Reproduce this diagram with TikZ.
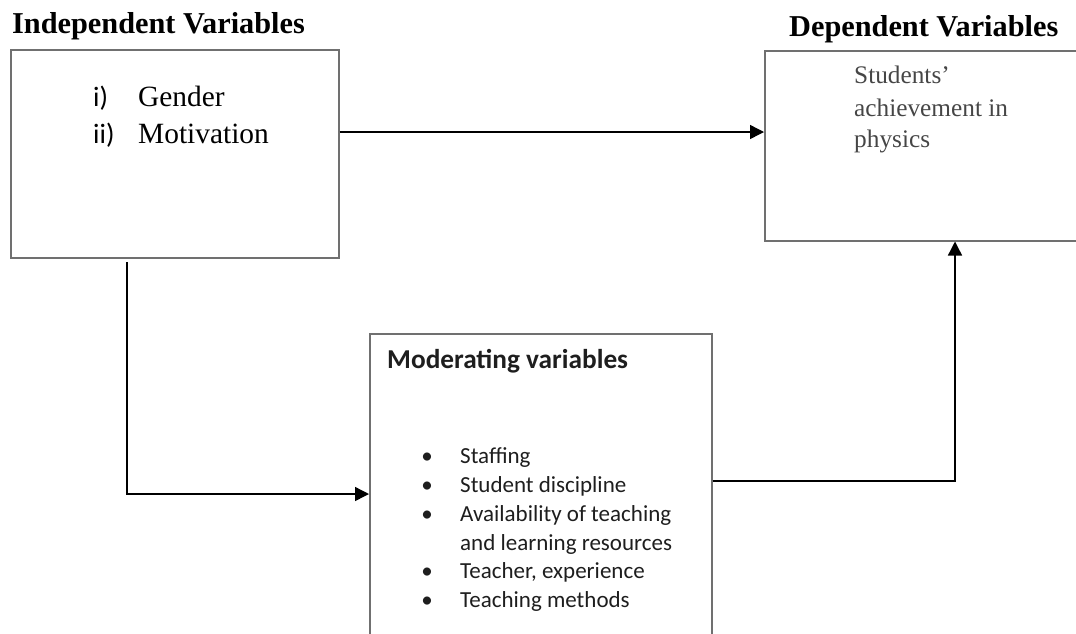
\documentclass[tikz,border=0pt]{standalone}
\usepackage{fontspec}
\setmainfont{Liberation Serif}
\newfontfamily\calfont{Carlito}
\usetikzlibrary{arrows.meta}
\definecolor{boxgray}{RGB}{112,112,112}
\definecolor{softtext}{RGB}{70,70,70}
\definecolor{modtext}{RGB}{30,30,30}
\begin{document}
\begin{tikzpicture}[x=1pt,y=-1pt,
  box/.style={draw=boxgray, line width=1.5pt, inner sep=0pt, anchor=north west},
  conn/.style={line width=1.4pt, -{Triangle[length=14pt,width=14pt]}},
  lbl/.style={anchor=base west, inner sep=0pt},
  title/.style={lbl, font=\bfseries\fontsize{30.3}{31}\selectfont},
  roman/.style={lbl, font=\fontsize{29.4}{30}\selectfont},
  numeral/.style={lbl, font=\calfont\fontsize{28}{30}\selectfont},
  ach/.style={lbl, text=softtext, font=\fontsize{25.3}{26}\selectfont},
  modtitle/.style={lbl, text=modtext, font=\calfont\bfseries\fontsize{27.3}{28}\selectfont},
  item/.style={lbl, text=modtext, font=\calfont\fontsize{23}{24}\selectfont},
  dot/.style={anchor=base, inner sep=0pt, text=modtext, font=\calfont\fontsize{23}{24}\selectfont}]
\useasboundingbox (0,0) rectangle (1076,633);
\clip (0,0) rectangle (1076,633);

% boxes
\node[box, minimum width=328pt, minimum height=208pt] (ind) at (10,49) {};
\node[box, minimum width=340pt, minimum height=190pt] (dep) at (764,50) {};
\node[box, minimum width=342pt, minimum height=330pt] (mod) at (369,333) {};

% titles
\node[title] (indt) at (12,33) {Independent Variables};
\node[title] (dept) at (789,36) {Dependent Variables};

% independent box text
\node[numeral] (n1) at (93,106) {i)};
\node[roman] (g) at (138,106) {Gender};
\node[numeral] (n2) at (93,143) {ii)};
\node[roman] (m) at (138,143) {Motivation};

% dependent box text
\node[ach] (s1) at (854,83) {Students’};
\node[ach] (s2) at (854,116) {achievement in};
\node[ach] (s3) at (854,147) {physics};

% moderating box text
\node[modtitle] (mt) at (387,368) {Moderating variables};
\node[dot] (b1) at (427,463) {•};
\node[item] (t1) at (460,463) {Staffing};
\node[dot] (b2) at (427,492) {•};
\node[item] (t2) at (460,492) {Student discipline};
\node[dot] (b3) at (427,521) {•};
\node[item] (t3) at (460,521) {Availability of teaching};
\node[item] (t3b) at (460,550) {and learning resources};
\node[dot] (b4) at (427,578) {•};
\node[item] (t4) at (460,578) {Teacher, experience};
\node[dot] (b5) at (427,607) {•};
\node[item] (t5) at (460,607) {Teaching methods};

% connectors
\coordinate (ya) at (0,132);
\coordinate (start) at (127,262);
\coordinate (yb) at (0,494);
\coordinate (yc) at (0,481);
\coordinate (xc) at (955,0);
\draw[conn] (ind.east |- ya) -- (dep.west |- ya);
\draw[conn] (start) |- (mod.west |- yb);
\draw[conn] (mod.east |- yc) -| (dep.south -| xc);
\end{tikzpicture}
\end{document}
